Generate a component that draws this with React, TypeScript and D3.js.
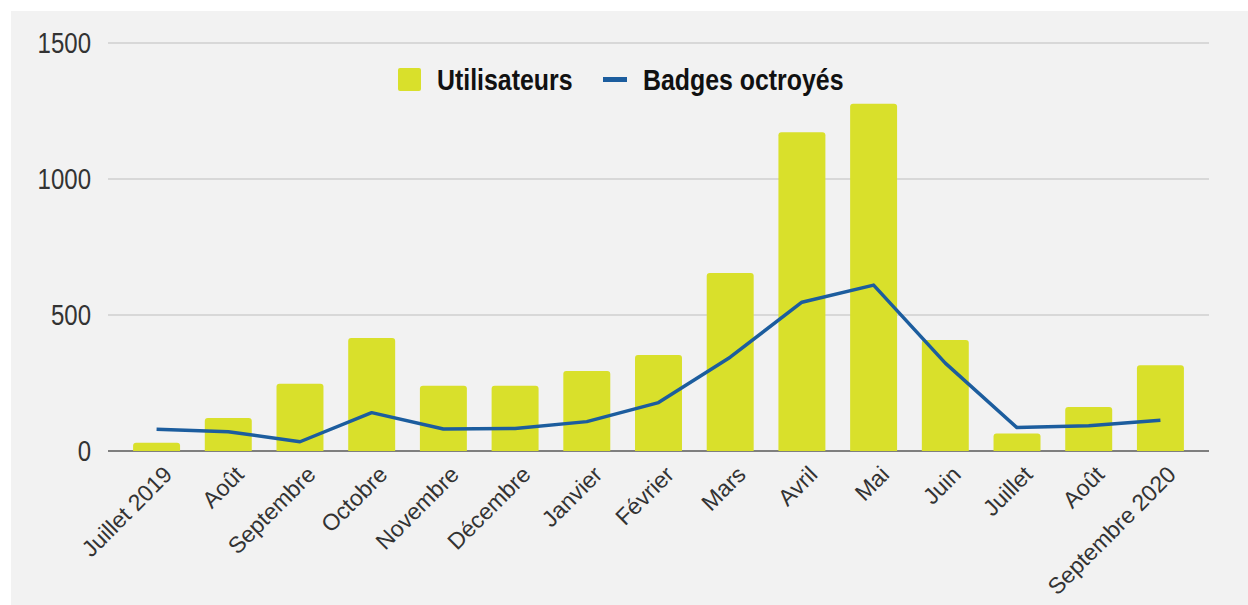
import React from 'react';
import * as d3 from 'd3';

const months = [
  'Juillet 2019', 'Août', 'Septembre', 'Octobre', 'Novembre', 'Décembre', 'Janvier',
  'Février', 'Mars', 'Avril', 'Mai', 'Juin', 'Juillet', 'Août ', 'Septembre 2020',
];
const utilisateurs = [30, 121, 247, 415, 240, 240, 294, 353, 654, 1172, 1277, 408, 64, 162, 315];
const badges = [80, 71, 34, 141, 81, 83, 108, 178, 345, 547, 610, 323, 86, 93, 113];
const yTicks = [0, 500, 1000, 1500];

const W = 1248;
const H = 605;
const BAR = '#d9e02b';
const LINE = '#1c5d9e';
const FONT = 'Liberation Sans, Arial, sans-serif';

function topRounded(x: number, y: number, w: number, h: number, r: number) {
  const rr = Math.min(r, h / 2, w / 2);
  return `M${x},${y + h}V${y + rr}Q${x},${y} ${x + rr},${y}H${x + w - rr}Q${x + w},${y} ${x + w},${y + rr}V${y + h}Z`;
}

export default function App() {
  const x = d3.scaleBand<number>()
    .domain(d3.range(months.length))
    .range([108, 1209])
    .paddingInner(0.345)
    .paddingOuter(0.35);
  const y = d3.scaleLinear().domain([0, 1500]).range([451, 43]);

  const line = d3.line<number>()
    .x((_, i) => (x(i) as number) + x.bandwidth() / 2)
    .y(d => y(d));

  return (
    <svg width={W} height={H} style={{position: 'absolute', left: 0, top: 0}}>
      <rect x={11} y={11} width={W - 11} height={H - 11} fill="#f2f2f2" />
      {yTicks.filter(t => t > 0).map(t => (
        <line key={t} x1={108} x2={1209} y1={y(t)} y2={y(t)} stroke="#d8d8d8" strokeWidth={2} />
      ))}
      <line x1={108} x2={1209} y1={y(0)} y2={y(0)} stroke="#7f7f7f" strokeWidth={2} />
      {yTicks.map(t => (
        <text key={t} transform={`translate(91,${y(t) + 10}) scale(0.8,1)`} textAnchor="end"
          fontFamily={FONT} fontSize={30} fill="#333">{t}</text>
      ))}
      {utilisateurs.map((v, i) => (
        <path key={i} d={topRounded(x(i) as number, y(v), x.bandwidth(), y(0) - y(v), 3)} fill={BAR} />
      ))}
      <path d={line(badges) || ''} fill="none" stroke={LINE} strokeWidth={3.5} strokeLinejoin="round" />
      {months.map((m, i) => {
        const cx = (x(i) as number) + x.bandwidth() / 2;
        return (
          <text key={i} transform={`translate(${cx + 17},${476}) rotate(-45)`} textAnchor="end"
            fontFamily={FONT} fontSize={23} fill="#333">{m.trim()}</text>
        );
      })}
      <rect x={398} y={68} width={23} height={23} rx={2} fill={BAR} />
      <text transform="translate(437,90) scale(0.83,1)" fontFamily={FONT} fontWeight="bold"
        fontSize={30} fill="#111">Utilisateurs</text>
      <line x1={603} x2={627} y1={79.5} y2={79.5} stroke={LINE} strokeWidth={5} />
      <text transform="translate(643,90) scale(0.83,1)" fontFamily={FONT} fontWeight="bold"
        fontSize={30} fill="#111">Badges octroyés</text>
    </svg>
  );
}
